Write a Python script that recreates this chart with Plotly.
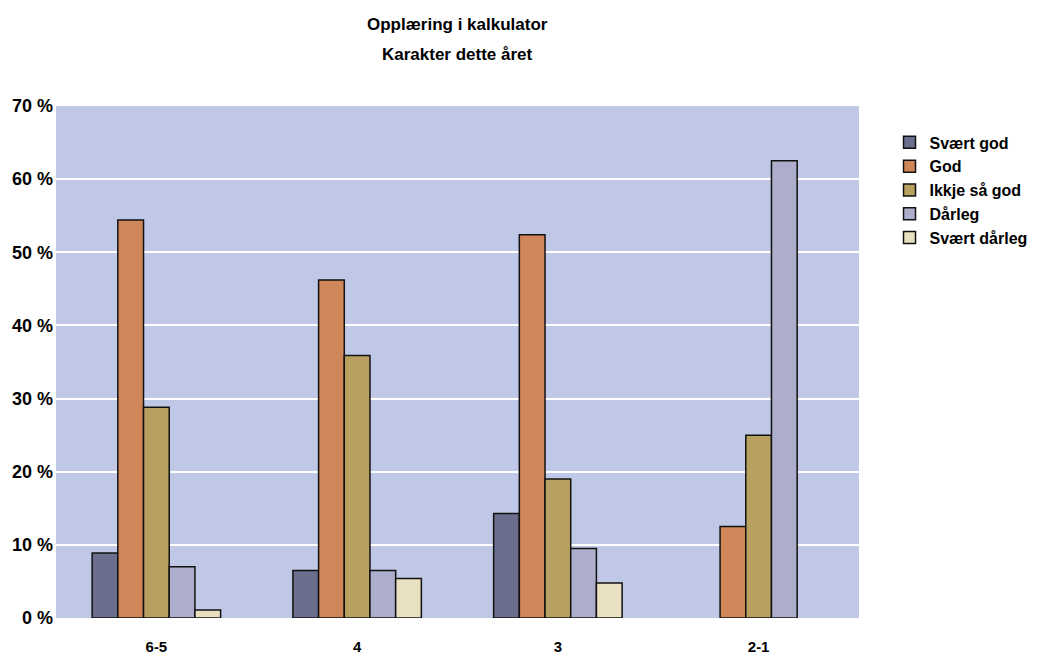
import plotly.graph_objects as go

# Grade groups on the x axis
categories = ["6-5", "4", "3", "2-1"]

# Share of answers (%) for each rating, per grade group (None = no bar)
series_names = ["Svært god", "God", "Ikkje så god", "Dårleg", "Svært dårleg"]
svaert_god = [8.9, 6.5, 14.3, None]
god = [54.4, 46.2, 52.4, 12.5]
ikkje_saa_god = [28.8, 35.9, 19.0, 25.0]
daarleg = [7.0, 6.5, 9.5, 62.5]
svaert_daarleg = [1.1, 5.4, 4.8, None]

y_ticks = [0, 10, 20, 30, 40, 50, 60, 70]

title_lines = ["Opplæring i kalkulator", "Karakter dette året"]

colors = ["#6b6e8f", "#cf8658", "#b8a060", "#adadcc", "#e9e0c2"]
values = [svaert_god, god, ikkje_saa_god, daarleg, svaert_daarleg]

FONT = "Liberation Sans, Arial, sans-serif"

fig = go.Figure()
for name, vals, col in zip(series_names, values, colors):
    fig.add_trace(go.Bar(
        name=name,
        x=categories,
        y=vals,
        marker=dict(color=col, line=dict(color="#111111", width=1.5)),
    ))

# Two-line heading centred over the plot area
for text, ypos in zip(title_lines, [1.160, 1.1015]):
    fig.add_annotation(
        text=f"<b>{text}</b>",
        xref="paper", yref="paper",
        x=0.5, y=ypos,
        xanchor="center", yanchor="middle",
        showarrow=False,
        font=dict(family=FONT, size=17, color="black"),
    )

fig.update_layout(
    width=1040,
    height=655,
    barmode="group",
    bargap=0.36,
    bargroupgap=0,
    paper_bgcolor="white",
    plot_bgcolor="#bfc8e6",
    margin=dict(l=56, r=181, t=106, b=37, autoexpand=False),
    font=dict(family=FONT, color="black"),
    legend=dict(
        x=1.038,
        xanchor="left",
        y=0.962,
        yanchor="top",
        font=dict(family=FONT, size=16, color="black", weight="bold"),
        bgcolor="rgba(0,0,0,0)",
        traceorder="normal",
    ),
    showlegend=True,
)

fig.update_xaxes(
    automargin=False,
    showgrid=False,
    showline=False,
    ticks="",
    ticklabelstandoff=18,
    tickfont=dict(family=FONT, size=15, color="black", weight="bold"),
)
fig.update_yaxes(
    automargin=False,
    range=[0, 70],
    tickvals=y_ticks,
    ticktext=[f"{v} %" for v in y_ticks],
    showgrid=True,
    gridcolor="white",
    gridwidth=1.5,
    zeroline=False,
    showline=False,
    ticks="",
    ticklabelstandoff=2,
    tickfont=dict(family=FONT, size=18, color="black", weight="bold"),
)

fig.write_html("out.html")
